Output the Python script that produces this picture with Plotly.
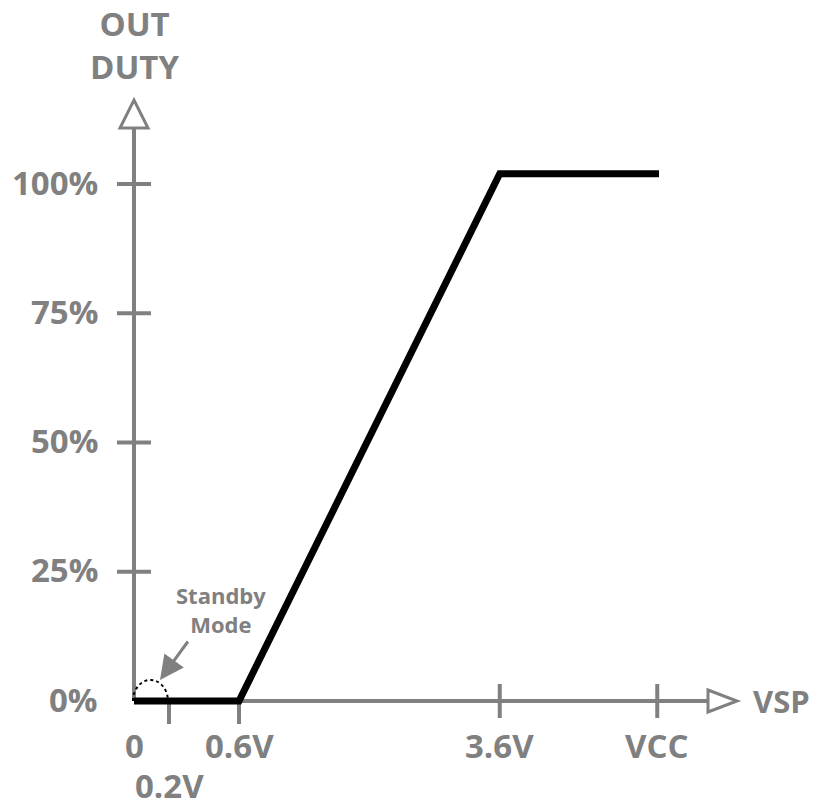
import plotly.graph_objects as go

# ---- data ----
x_tick_pos = [0, 0.2, 0.6, 2.09, 2.99]          # schematic VSP axis positions
x_tick_labels = ["0", "<br>0.2V", "0.6V", "3.6V", "VCC"]
y_tick_vals = [0, 25, 50, 75, 100]
y_tick_labels = ["0%", "25%", "50%", "75%", "100%"]
duty_x = [0, 0.6, 2.09, 3.0]
duty_y = [0, 0, 102, 102]

GRAY = "#808080"
FONT = "Open Sans"
W, H = 819, 807
# pixel scale: x unit = 175 px, y unit = 5.17 px, origin at pixel (134, 701)
XS, YS = 175.0, 5.17
X0 = 134.0
Y0 = 701.0
def dx(px): return px / XS
def dy(px): return px / YS
def ax_x(page_px): return (page_px - X0) / XS
def ax_y(page_px): return (Y0 - page_px) / YS
xr = [ax_x(0), ax_x(W)]
yr = [ax_y(H), ax_y(0)]

fig = go.Figure()
fig.add_trace(go.Scatter(x=duty_x, y=duty_y, mode="lines",
                         line=dict(color="black", width=7),
                         hoverinfo="skip", showlegend=False))

shapes = []
y_top = ax_y(128)
x_right = ax_x(708)
shapes.append(dict(type="line", x0=0, x1=0, y0=0, y1=y_top, line=dict(color=GRAY, width=4), layer="below"))
shapes.append(dict(type="line", x0=0, x1=x_right, y0=0, y1=0, line=dict(color=GRAY, width=4), layer="below"))
hw = dx(14)
shapes.append(dict(type="path",
                   path=f"M {-hw},{y_top} L {hw},{y_top} L 0,{ax_y(100)} Z",
                   line=dict(color=GRAY, width=3), fillcolor="white"))
hh = dy(11)
shapes.append(dict(type="path",
                   path=f"M {x_right},{-hh} L {x_right},{hh} L {ax_x(737)},0 Z",
                   line=dict(color=GRAY, width=3), fillcolor="white"))
for v in y_tick_vals[1:]:
    shapes.append(dict(type="line", x0=-dx(17), x1=dx(17), y0=v, y1=v,
                       line=dict(color=GRAY, width=4), layer="below"))
for p in x_tick_pos[1:]:
    top = 0 if p < 1 else dy(17)
    bot = -dy(23) if p < 1 else -dy(17)
    shapes.append(dict(type="line", x0=p, x1=p, y0=bot, y1=top,
                       line=dict(color=GRAY, width=4), layer="below"))
cx, rx, ry, k = 0.094, 0.1, dy(21), 0.5523
shapes.append(dict(type="path",
                   path=(f"M {cx-rx},0 C {cx-rx},{k*ry} {cx-k*rx},{ry} {cx},{ry} "
                         f"C {cx+k*rx},{ry} {cx+rx},{k*ry} {cx+rx},0"),
                   line=dict(color="black", width=2, dash="dot")))

ann = []
tf = dict(family=FONT, size=33, color=GRAY)
for v, t in zip(y_tick_vals, y_tick_labels):
    ann.append(dict(x=ax_x(100), y=v + dy(2), text=f"<b>{t}</b>", showarrow=False,
                    xanchor="right", yanchor="middle", font=tf))
for p, t in zip(x_tick_pos, x_tick_labels):
    if t.startswith("<br>"):
        ann.append(dict(x=p, y=ax_y(785), text=f"<b>{t[4:]}</b>", showarrow=False,
                        xanchor="center", yanchor="middle", font=tf))
    else:
        ann.append(dict(x=p, y=ax_y(745), text=f"<b>{t}</b>", showarrow=False,
                        xanchor="center", yanchor="middle", font=tf))
ann.append(dict(x=0, y=ax_y(45), text="<b>OUT<br>DUTY</b>", showarrow=False,
                xanchor="center", yanchor="middle", font=dict(family=FONT, size=33, color=GRAY)))
ann.append(dict(x=ax_x(751), y=0, text="<b>VSP</b>", showarrow=False,
                xanchor="left", yanchor="middle", font=dict(family=FONT, size=31, color=GRAY)))
ann.append(dict(x=ax_x(221), y=ax_y(609), text="<b>Standby<br>Mode</b>", showarrow=False,
                xanchor="center", yanchor="middle", font=dict(family=FONT, size=22, color=GRAY)))
ann.append(dict(x=ax_x(160), y=ax_y(680), ax=ax_x(189), ay=ax_y(640),
                axref="x", ayref="y", text="", showarrow=True, arrowhead=2,
                arrowsize=1.6, arrowwidth=3, arrowcolor=GRAY))

fig.update_layout(
    width=W, height=H, margin=dict(l=0, r=0, t=0, b=0),
    paper_bgcolor="white", plot_bgcolor="white",
    xaxis=dict(range=xr, visible=False, fixedrange=True),
    yaxis=dict(range=yr, visible=False, fixedrange=True),
    shapes=shapes, annotations=ann, showlegend=False,
)
fig.write_html("out.html", config={"displayModeBar": False},
               post_script="document.body.style.margin='0';document.body.style.overflow='hidden';")
